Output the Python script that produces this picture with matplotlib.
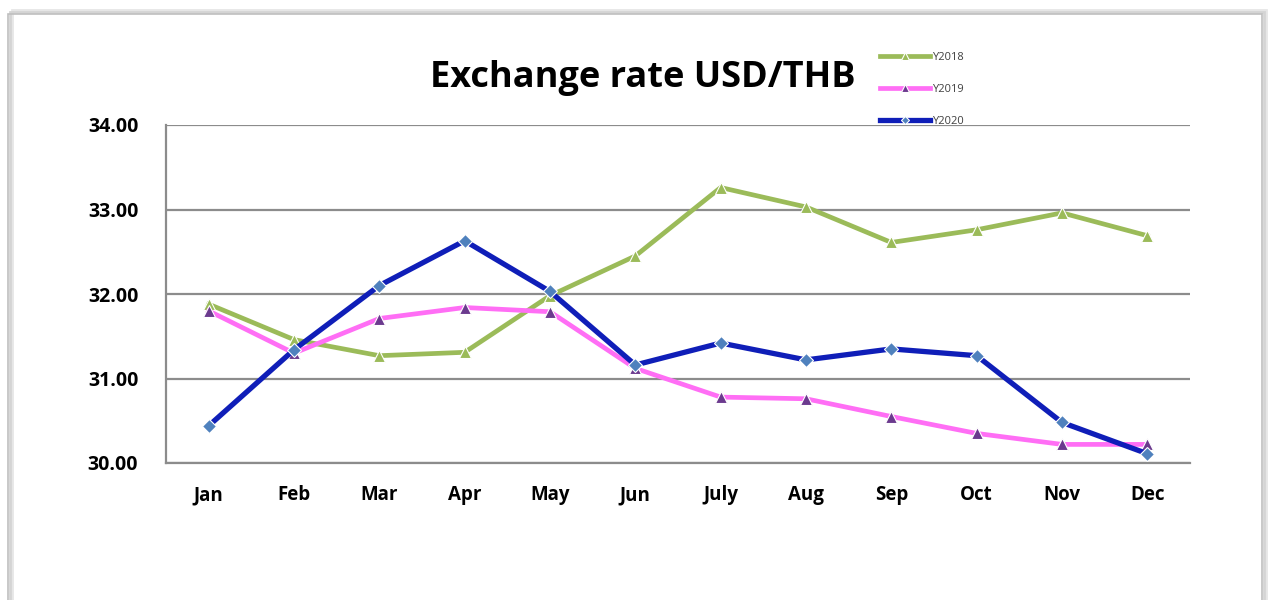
import matplotlib.pyplot as plt
from matplotlib.patches import Rectangle

months = ['Jan', 'Feb', 'Mar', 'Apr', 'May', 'Jun', 'July', 'Aug', 'Sep', 'Oct', 'Nov', 'Dec']
y2018 = [31.88, 31.46, 31.27, 31.31, 31.98, 32.45, 33.26, 33.03, 32.61, 32.76, 32.96, 32.69]
y2019 = [31.80, 31.30, 31.71, 31.84, 31.79, 31.12, 30.78, 30.76, 30.55, 30.35, 30.22, 30.22]
y2020 = [30.44, 31.34, 32.10, 32.63, 32.03, 31.16, 31.42, 31.22, 31.35, 31.27, 30.48, 30.11]
yticks = [30, 31, 32, 33, 34]

plt.rcParams['font.family'] = ['Open Sans', 'DejaVu Sans']

W, H = 1271, 600
fig = plt.figure(figsize=(W / 100, H / 100), dpi=100)
fig.patch.set_facecolor('white')

# outer frame with a soft shadow
for off, col in [(4, '#e6e6e6'), (2, '#d4d4d4')]:
    fig.patches.append(Rectangle(((8 + off) / W, -0.05), (1254) / W, 1 - (14 - off) / H + 0.05,
                                 transform=fig.transFigure, fill=False, ec=col, lw=2, zorder=0))
fig.patches.append(Rectangle((8 / W, -0.05), 1254 / W, 1 - 14 / H + 0.05,
                             transform=fig.transFigure, fill=False, ec='#bfbfbf', lw=1.2, zorder=1))

ax = fig.add_axes([166 / W, 1 - 463 / H, (1190 - 166) / W, (463 - 125) / H])
x = list(range(len(months)))

ax.plot(x, y2018, color='#9BBB59', lw=3.4, marker='^', ms=9, mfc='#9BBB59', mec='white', mew=0.8,
        label='Y2018', zorder=3)
ax.plot(x, y2019, color='#FF6EF5', lw=3.4, marker='^', ms=9, mfc='#6B3A8E', mec='white', mew=0.8,
        label='Y2019', zorder=4)
ax.plot(x, y2020, color='#0F1EB8', lw=3.8, marker='D', ms=7.5, mfc='#4F81BD', mec='white', mew=0.8,
        label='Y2020', zorder=5)

ax.set_xlim(-0.5, 11.5)
ax.set_ylim(30, 34)
ax.set_yticks(yticks)
ax.set_yticklabels(['%.2f' % v for v in yticks], fontsize=14, fontweight='bold')
ax.set_xticks(x)
ax.set_xticklabels(months, fontsize=13.5, fontweight='bold')
ax.tick_params(length=0)
ax.tick_params(axis='x', pad=16)
ax.tick_params(axis='y', pad=20)
ax.grid(axis='y', color='#8c8c8c', lw=1.6)
ax.set_axisbelow(True)
for s in ['top', 'right']:
    ax.spines[s].set_visible(False)
for s in ['left', 'bottom']:
    ax.spines[s].set_color('#8c8c8c')
    ax.spines[s].set_linewidth(1.6)

fig.text(643 / W, 1 - 78 / H, 'Exchange rate USD/THB', ha='center', va='center',
         fontsize=26, fontweight='bold')

leg = fig.legend(loc='upper left', bbox_to_anchor=(870 / W, 1 - 42 / H), frameon=False,
                 fontsize=8, labelspacing=1.9, handlelength=4.5, handletextpad=0.2, markerscale=0.6)
for t in leg.get_texts():
    t.set_color('#404040')

fig.savefig('out.png', dpi=100)
